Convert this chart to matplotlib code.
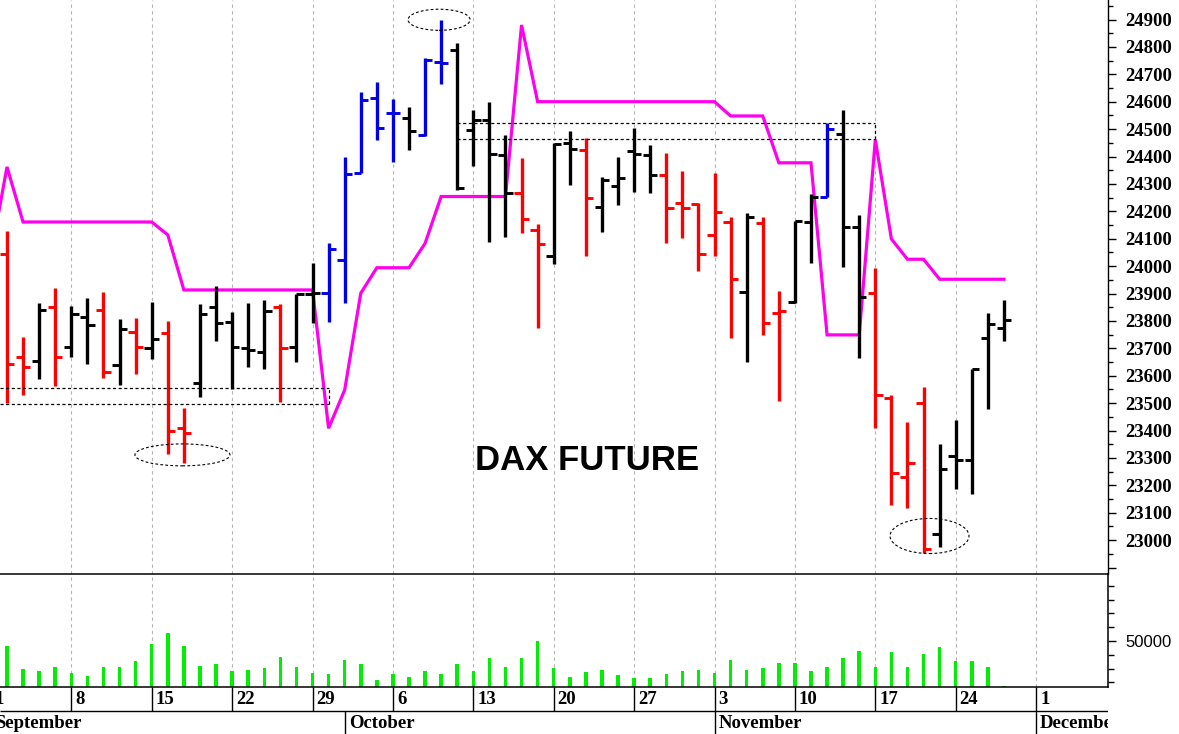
import matplotlib
matplotlib.use("Agg")
import matplotlib.pyplot as plt
import pandas as pd
from matplotlib.patches import Ellipse
from matplotlib.ticker import FixedLocator, FuncFormatter

# ---------------- data (trading days 2 Sep .. 27 Nov) ----------------
start_date = "2025-09-02"
end_date = "2025-11-27"

opens = [24044, 23667, 23655, 23852, 23704, 23815, 23840, 23639, 23761, 23702,
         23755, 23408, 23572, 23850, 23797, 23700, 23688, 23850, 23704, 23898,
         23901, 24022, 24338, 24615, 24558, 24540, 24478, 24746, 24789, 24497,
         24533, 24407, 24267, 24132, 24037, 24448, 24423, 24217, 24292, 24421,
         24405, 24334, 24229, 24227, 24114, 24162, 23904, 24158, 23830, 23869,
         24162, 24253, 24482, 24144, 23901, 23518, 23231, 23499, 23022, 23308,
         23292, 23739, 23775]
highs = [24129, 23742, 23864, 23919, 23856, 23885, 23904, 23806, 23809, 23868,
         23800, 23481, 23862, 23927, 23831, 23866, 23876, 23862, 23898, 24012,
         24085, 24399, 24635, 24673, 24610, 24582, 24758, 24898, 24813, 24570,
         24600, 24479, 24396, 24155, 24448, 24494, 24468, 24326, 24399, 24505,
         24442, 24412, 24348, 24229, 24339, 24180, 24193, 24180, 23909, 24164,
         24262, 24522, 24570, 24187, 23992, 23530, 23430, 23560, 23351, 23438,
         23623, 23830, 23876]
lows = [23502, 23530, 23587, 23562, 23669, 23643, 23593, 23566, 23606, 23661,
        23313, 23280, 23523, 23728, 23552, 23633, 23625, 23505, 23651, 23791,
        23797, 23864, 24338, 24460, 24379, 24424, 24475, 24664, 24278, 24367,
        24087, 24107, 24120, 23774, 24007, 24296, 24037, 24125, 24223, 24270,
        24266, 24083, 24104, 23982, 24037, 23737, 23649, 23749, 23508, 23867,
        24011, 24252, 23996, 23664, 23408, 23128, 23116, 22954, 22974, 23187,
        23168, 23477, 23728]
closes = [23643, 23631, 23840, 23669, 23824, 23785, 23615, 23769, 23706, 23734,
          23399, 23392, 23825, 23791, 23706, 23694, 23837, 23700, 23898, 23901,
          24064, 24336, 24606, 24505, 24558, 24494, 24752, 24742, 24284, 24533,
          24409, 24266, 24173, 24079, 24447, 24428, 24250, 24313, 24323, 24410,
          24332, 24211, 24211, 24044, 24199, 23953, 24180, 23794, 23837, 24164,
          24252, 24499, 24142, 23888, 23530, 23244, 23280, 22967, 23258, 23292,
          23623, 23788, 23803]
bar_colors = ["r", "r", "k", "r", "k", "k", "r", "k", "r", "k",
              "r", "r", "k", "k", "k", "k", "k", "r", "k", "k",
              "b", "b", "b", "b", "b", "k", "b", "b", "k", "k",
              "k", "k", "r", "r", "k", "k", "r", "k", "k", "k",
              "k", "r", "r", "r", "r", "r", "k", "r", "r", "k",
              "k", "b", "k", "k", "r", "r", "r", "r", "k", "k",
              "k", "k", "k"]
volumes = [44600, 19600, 17400, 21700, 15200, 12000, 21700, 21700, 28300, 46700,
           58700, 44600, 22800, 25000, 17400, 18500, 20600, 32600, 21700, 15200,
           14100, 29300, 25000, 7600, 14100, 10900, 17400, 14100, 25000, 17400,
           31500, 21700, 31500, 50000, 20600, 10900, 16300, 18500, 13000, 9800,
           9800, 14100, 17400, 18500, 15200, 29300, 18500, 20600, 26100, 26100,
           17400, 21700, 31500, 39100, 21700, 38000, 21700, 35900, 43500, 28300,
           28300, 21700, 1100]
# stop line, 1 Sep .. 27 Nov
stop_line = [24040, 24362, 24161, 24161, 24161, 24161, 24161, 24161, 24161, 24161,
             24161, 24114, 23913, 23913, 23913, 23913, 23913, 23913, 23913, 23913,
             23913, 23408, 23548, 23901, 23994, 23994, 23994, 24083, 24254, 24254,
             24254, 24254, 24254, 24880, 24600, 24600, 24600, 24600, 24600, 24600,
             24600, 24600, 24600, 24600, 24600, 24600, 24548, 24548, 24548, 24377,
             24377, 24377, 23749, 23749, 23749, 24462, 24099, 24025, 24025, 23952,
             23952, 23952, 23952, 23952]
support_band = [23496, 23554]      # lower dotted box (Sep)
resist_band = [24463, 24524]       # upper dotted box (Oct-Nov)
title = "DAX FUTURE"

# ---------------- calendar / positions ----------------
cal = pd.bdate_range("2025-09-01", "2025-12-31")
pos_of = {d: i - 1 for i, d in enumerate(cal)}          # 2 Sep -> 0
days = pd.bdate_range(start_date, end_date)
xs = [pos_of[d] for d in days]
xs_stop = [pos_of[d] for d in pd.bdate_range("2025-09-01", end_date)]
mondays = [d for d in cal if d.weekday() == 0 and d <= pd.Timestamp("2025-12-01")]
mon_pos = [pos_of[d] for d in mondays]
month_starts = [cal[cal.month == m][0] for m in (9, 10, 11, 12)]
month_names = ["September", "October", "November", "December"]

cmap = {"r": "#ff0000", "k": "#000000", "b": "#0000e6"}

# ---------------- figure ----------------
W, H = 1179, 734
fig = plt.figure(figsize=(W / 100, H / 100), dpi=100)
fig.patch.set_facecolor("white")


def px_axes(l, t, r, b):
    return fig.add_axes([l / W, 1 - b / H, (r - l) / W, (b - t) / H])


PX_PER_DAY = 16.08
X0 = -7 / PX_PER_DAY
X1 = (1108 - 7) / PX_PER_DAY

ax_p = px_axes(0, 0, 1108, 574)
ax_v = px_axes(0, 574, 1108, 687)
ax_d = px_axes(0, 687, 1108, 734)
for a in (ax_v, ax_d):
    a.set_facecolor("none")

serif_bold = dict(family="Liberation Serif", weight="bold", size=13.5)

# ---- price panel ----
ax_p.set_xlim(X0, X1)
ax_p.set_ylim(22876.3, 24971.2)
ax_p.vlines(mon_pos, 22876.3, 24971.2, colors="#b4b4b4", lw=0.8,
            linestyles=(0, (3, 3)), zorder=0)

tick_len = 0.45
for x, o, h, l, c, col in zip(xs, opens, highs, lows, closes, bar_colors):
    cc = cmap[col]
    ax_p.vlines(x, l, h, colors=cc, lw=2.4, zorder=3)
    ax_p.hlines(o, x - tick_len, x, colors=cc, lw=2.1, zorder=3)
    ax_p.hlines(c, x, x + tick_len, colors=cc, lw=2.1, zorder=3)

ax_p.plot(xs_stop, stop_line, color="#ff00ee", lw=2.3, zorder=2,
          solid_joinstyle="miter")

dot = dict(colors="black", lw=0.9, linestyles=(0, (2.5, 2)), zorder=4)
ax_p.hlines(support_band, X0, xs[20], **dot)
ax_p.vlines(xs[20], support_band[0], support_band[1], **dot)
ax_p.hlines(resist_band, xs[28], xs[54], **dot)
ax_p.vlines(xs[54], resist_band[0], resist_band[1], **dot)

ell = dict(fill=False, ec="black", lw=0.8, ls=(0, (2.5, 2)), zorder=4)
ax_p.add_patch(Ellipse((10.91, 23311), 5.91, 80, **ell))
ax_p.add_patch(Ellipse((26.87, 24899), 3.86, 77, **ell))
ax_p.add_patch(Ellipse((57.37, 23015), 4.91, 128, **ell))

ax_p.text(36.07, 23289, title, ha="center", va="center",
          fontsize=25, fontweight="bold", family="Liberation Sans")

for s in ("left", "top", "bottom"):
    ax_p.spines[s].set_visible(False)
ax_p.spines["right"].set_linewidth(1)
ax_p.yaxis.tick_right()
ax_p.yaxis.set_major_locator(FixedLocator(list(range(22900, 25000, 100))))
ax_p.yaxis.set_minor_locator(FixedLocator(list(range(22950, 25000, 100))))
ax_p.yaxis.set_major_formatter(FuncFormatter(lambda v, p: f"{int(round(v))}" if v >= 23000 else ""))
ax_p.tick_params(axis="y", which="major", length=6, width=1, pad=6.5)
ax_p.tick_params(axis="y", which="minor", length=3.8, width=1)
ax_p.tick_params(axis="x", bottom=False, labelbottom=False)
for lab in ax_p.get_yticklabels():
    lab.set_fontproperties(matplotlib.font_manager.FontProperties(**serif_bold))

# ---- volume panel ----
ax_v.set_xlim(X0, X1)
ax_v.set_ylim(0, 122800)
ax_v.vlines(mon_pos, 0, 122800, colors="#b4b4b4", lw=0.8,
            linestyles=(0, (3, 3)), zorder=0)
ax_v.bar(xs, volumes, width=0.22, color="#00ee00", zorder=2)
ax_v.spines["left"].set_visible(False)
for s in ("top", "bottom", "right"):
    ax_v.spines[s].set_color("black")
    ax_v.spines[s].set_linewidth(1.1)
ax_v.yaxis.tick_right()
ax_v.yaxis.set_major_locator(FixedLocator([50000]))
ax_v.yaxis.set_minor_locator(FixedLocator([5000, 20000, 35000, 65000, 80000, 95000, 110000]))
ax_v.yaxis.set_major_formatter(FuncFormatter(lambda v, p: f"{int(v)}"))
ax_v.tick_params(axis="y", which="major", length=6, width=1, pad=6.5,
                 labelsize=12)
ax_v.tick_params(axis="y", which="minor", length=4, width=1)
ax_v.tick_params(axis="x", bottom=False, labelbottom=False)
for lab in ax_v.get_yticklabels():
    lab.set_family("Liberation Sans")

# ---- date rows ----
ax_d.set_xlim(X0, X1)
ax_d.set_ylim(734, 687)
ax_d.axis("off")
ax_d.hlines([711], X0, X1, colors="black", lw=1)
ax_d.vlines(mon_pos, 687, 711, colors="black", lw=1)
for p, d in zip(mon_pos, mondays):
    ax_d.text(p + 0.25, 699.5, str(d.day), ha="left", va="center",
              clip_on=True, **serif_bold)
for d, name in zip(month_starts, month_names):
    p = pos_of[d]
    ax_d.vlines(p, 711, 734, colors="black", lw=1)
    ax_d.text(p + 0.25, 723, name, ha="left", va="center",
              clip_on=True, **serif_bold)

fig.savefig("out.png", dpi=100, facecolor="white")
